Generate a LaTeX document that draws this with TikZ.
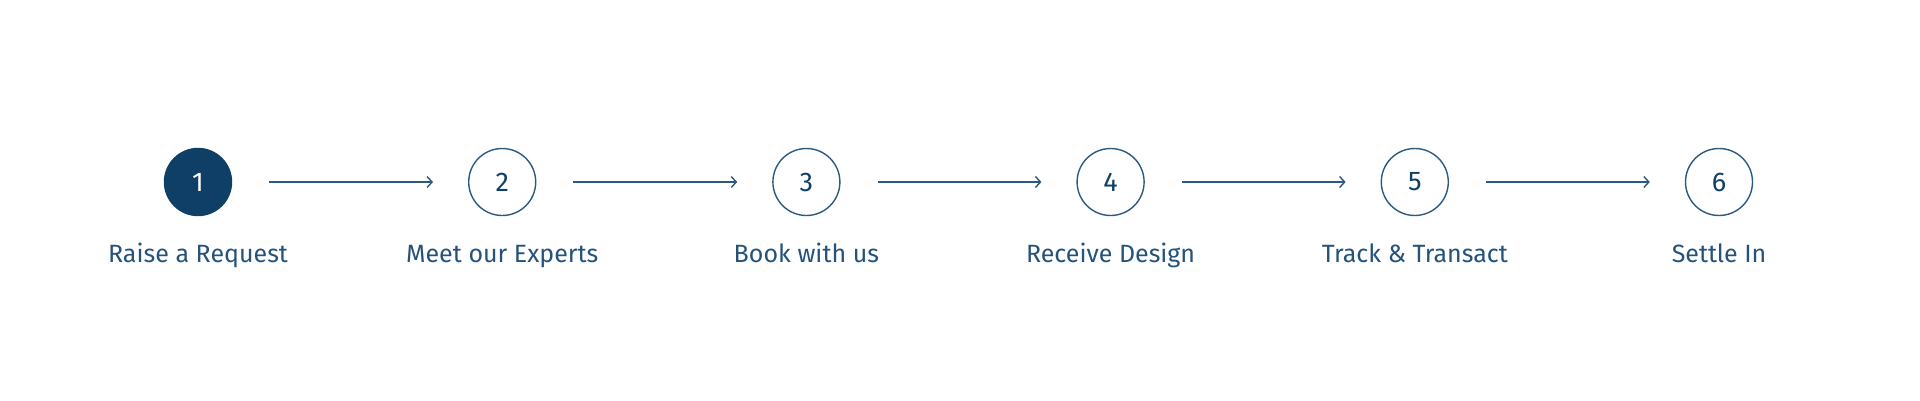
\documentclass[tikz,border=0pt]{standalone}
\usepackage{fontspec}
\setmainfont{Fira Sans}
\usetikzlibrary{arrows.meta}
\definecolor{stepnavy}{HTML}{0F3F66}
\definecolor{stepline}{HTML}{2A5A82}
\definecolor{steptext}{HTML}{24527A}

\begin{document}
\begin{tikzpicture}[x=1pt,y=1pt,
    stepopen/.style={circle,draw=stepline,line width=1.4pt,minimum size=67pt,inner sep=0pt,
      text=stepnavy,font=\fontsize{27}{30}\selectfont},
    stepfull/.style={stepopen,fill=stepnavy,draw=stepnavy,text=white},
    steplabel/.style={anchor=base,text=steptext,font=\fontsize{25}{28}\selectfont},
    steparrow/.style={draw=stepline,line width=1.4pt,shorten <=37pt,shorten >=35pt,
      -{Straight Barb[length=5pt,width=11pt,line width=1.4pt]}}]
  \useasboundingbox (0,0) rectangle (1920,400);
  \foreach \sty/\txt [count=\i] in {stepfull/Raise a Request,stepopen/Meet our Experts,
      stepopen/Book with us,stepopen/Receive Design,stepopen/Track \& Transact,stepopen/Settle In}
  {
    \node[\sty] (c\i) at ({198+304.2*(\i-1)},218) {\i};
    \node[steplabel] (l\i) at (c\i.center |- 0,138) {\txt};
  }
  \foreach \i [evaluate=\i as \j using int(\i+1)] in {1,...,5}
    \draw[steparrow] (c\i) -- (c\j);
\end{tikzpicture}
\end{document}
